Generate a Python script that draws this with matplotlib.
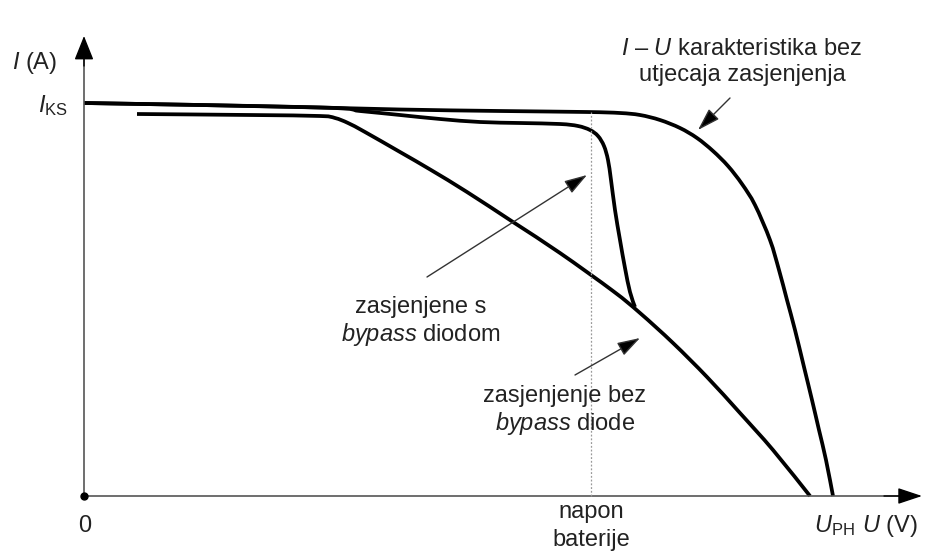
import matplotlib
matplotlib.use("Agg")
import matplotlib.pyplot as plt
import numpy as np
from matplotlib.path import Path
from matplotlib.patches import PathPatch

plt.rcParams['font.family'] = ['Liberation Sans', 'DejaVu Sans']
plt.rcParams['mathtext.fontset'] = 'custom'
plt.rcParams['mathtext.rm'] = 'Liberation Sans'
plt.rcParams['mathtext.it'] = 'Liberation Sans:italic'
plt.rcParams['mathtext.bf'] = 'Liberation Sans:bold'

# ---- data (U, I in arbitrary drawing units) ----
u_unshaded = [0, 116, 216, 316, 416, 503, 536, 556, 576, 596, 613, 629, 644, 658, 671, 686, 695, 703, 711, 720, 728, 735, 742, 749]
i_unshaded = [393, 391, 389, 386.5, 385, 384, 383, 381, 376, 368, 358, 345, 330, 312, 291, 256, 226, 196, 166, 129, 96, 66, 36, 0]

u_bypass = [0, 236, 276, 316, 356, 396, 436, 476, 494, 506, 514, 520, 524, 527, 531, 536, 541, 546, 551]
i_bypass = [393, 388.5, 385, 381, 377, 374, 373, 372, 370, 366, 360, 350, 336, 316, 286, 256, 228, 204, 189]

u_nobypass = [53, 166, 236, 251, 264, 281, 316, 347, 383, 429, 476, 529, 556, 589, 623, 656, 689, 726]
i_nobypass = [382, 381, 380, 378, 373, 364, 344, 326, 304, 274, 243, 205, 183, 153, 119, 83, 46, 0]

u_battery = 507
i_ks = 393
u_ph = 749


def smooth_path(xs, ys):
    """Catmull-Rom curve through the given points, drawn as cubic Bezier segments."""
    p = np.column_stack([xs, ys]).astype(float)
    n = len(p)
    verts = [p[0]]
    codes = [Path.MOVETO]
    for k in range(n - 1):
        p0 = p[k - 1] if k > 0 else p[k]
        p1, p2 = p[k], p[k + 1]
        p3 = p[k + 2] if k + 2 < n else p[k + 1]
        c1 = p1 + (p2 - p0) / 6.0
        c2 = p2 - (p3 - p1) / 6.0
        verts += [c1, c2, p2]
        codes += [Path.CURVE4] * 3
    return Path(verts, codes)


# ---- figure ----
fig = plt.figure(figsize=(9.48, 5.56), dpi=100)
ax = fig.add_axes([0, 0, 1, 1])
ax.set_xlim(-84, 864)
ax.set_ylim(-60, 496)
ax.axis('off')

axis_col = '#555555'
txt_col = '#222222'

# axes with arrows
ax.plot([0, 0], [0, 445], color=axis_col, lw=1.2)
ax.annotate('', xy=(0, 460), xytext=(0, 430),
            arrowprops=dict(arrowstyle='-|>,head_length=0.75,head_width=0.3', mutation_scale=20,
                            lw=1.0, fc='black', ec='black', shrinkA=0, shrinkB=0))
ax.plot([0, 822], [0, 0], color=axis_col, lw=1.2)
ax.annotate('', xy=(838, 0), xytext=(800, 0),
            arrowprops=dict(arrowstyle='-|>,head_length=0.75,head_width=0.25', mutation_scale=20,
                            lw=1.0, fc='black', ec='black', shrinkA=0, shrinkB=0))
ax.plot([0], [0], 'o', color='black', ms=5)

# battery voltage dotted line
ax.plot([u_battery, u_battery], [0, 384], color='#9a9a9a', lw=0.9, ls=(0, (1.5, 1.5)))

# curves
lw = 2.7
for u, i in [(u_unshaded, i_unshaded), (u_bypass, i_bypass), (u_nobypass, i_nobypass)]:
    ax.add_patch(PathPatch(smooth_path(u, i), fc='none', ec='black', lw=lw,
                           joinstyle='round', capstyle='butt'))

fs = 17
# axis labels
ax.text(-27, 433, r'$I$ (A)', fontsize=fs, color=txt_col, ha='right', va='center')
ax.text(-16, i_ks - 3, r'$I_{\mathrm{KS}}$', fontsize=fs, color=txt_col, ha='right', va='center')
ax.text(1, -30, '0', fontsize=fs, color=txt_col, ha='center', va='center')
ax.text(u_battery, -16, 'napon', fontsize=fs, color=txt_col, ha='center', va='center')
ax.text(u_battery, -44, 'baterije', fontsize=fs, color=txt_col, ha='center', va='center')
ax.text(u_ph - 19, -30, r'$U_{\mathrm{PH}}$', fontsize=fs, color=txt_col, ha='left', va='center')
ax.text(778, -30, r'$U$ (V)', fontsize=fs, color=txt_col, ha='left', va='center')

# annotations
arrow_kw = dict(arrowstyle='-|>,head_length=0.7,head_width=0.22', mutation_scale=20,
                lw=1.0, color='#333333', fc='black', ec='#333333', shrinkA=0, shrinkB=0)

ax.text(658, 441, r'$I$ – $U$ karakteristika bez', fontsize=fs, color=txt_col, ha='center', va='baseline')
ax.text(658, 415, 'utjecaja zasjenjenja', fontsize=fs, color=txt_col, ha='center', va='baseline')
ax.annotate('', xy=(614, 366), xytext=(646, 398), arrowprops=arrow_kw)

ax.text(337, 183, 'zasjenjene s', fontsize=fs, color=txt_col, ha='center', va='baseline')
ax.text(337, 155, r'$bypass$ diodom', fontsize=fs, color=txt_col, ha='center', va='baseline')
ax.annotate('', xy=(503, 321), xytext=(343, 219), arrowprops=arrow_kw)

ax.text(481, 94, 'zasjenjenje bez', fontsize=fs, color=txt_col, ha='center', va='baseline')
ax.text(481, 66, r'$bypass$ diode', fontsize=fs, color=txt_col, ha='center', va='baseline')
ax.annotate('', xy=(556, 158), xytext=(491, 121), arrowprops=arrow_kw)

fig.savefig('out.png', dpi=100, facecolor='white')
